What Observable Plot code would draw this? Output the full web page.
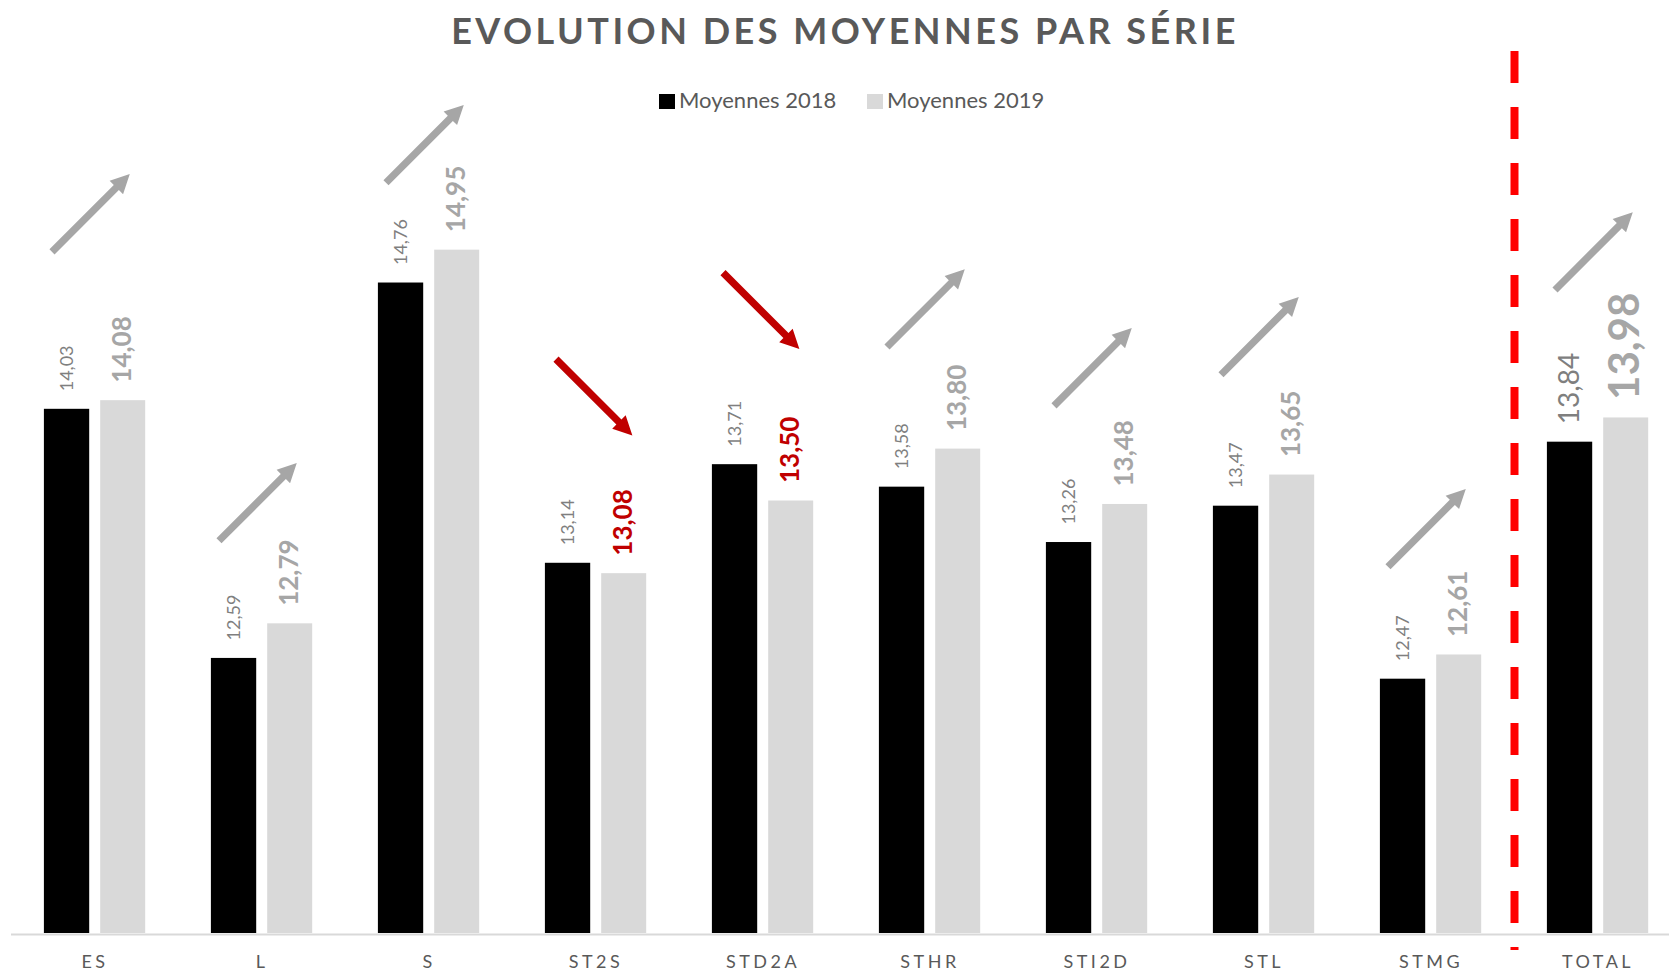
<!DOCTYPE html>
<html>
<head>
<meta charset="utf-8">
<script src="https://cdn.jsdelivr.net/npm/d3@7"></script>
<script src="https://cdn.jsdelivr.net/npm/@observablehq/plot@0.6"></script>
<style>
  body { margin: 0; background: #fff; }
  #wrap { position: relative; width: 1669px; height: 971px; overflow: hidden; font-family: Lato, "Open Sans", sans-serif; }
  #chart { position: absolute; left: 0; top: 0; }
  #title { position: absolute; left: 0; width: 1690px; top: 12px; text-align: center; font-size: 36px; line-height: 36px; font-weight: 700; color: #595959; letter-spacing: 3.5px; white-space: nowrap; }
  .lg-sw { position: absolute; width: 16px; height: 15px; top: 94px; }
  .lg-tx { position: absolute; top: 89px; font-size: 22px; line-height: 22px; color: #595959; white-space: nowrap; }
</style>
</head>
<body>
<div id="wrap">
  <div id="chart"></div>
  <div id="title"></div>
  <div id="legend"></div>
</div>
<script>
// ---- data ----
const categories = ["ES", "L", "S", "ST2S", "STD2A", "STHR", "STI2D", "STL", "STMG", "TOTAL"];
const moyennes2018 = [14.03, 12.59, 14.76, 13.14, 13.71, 13.58, 13.26, 13.47, 12.47, 13.84];
const moyennes2019 = [14.08, 12.79, 14.95, 13.08, 13.50, 13.80, 13.48, 13.65, 12.61, 13.98];
// level (in y units) where each trend arrow starts
const arrowLevels = [14.94, 13.27, 15.34, 14.32, 14.82, 14.39, 14.05, 14.23, 13.12, 14.72];
const seriesNames = ["Moyennes 2018", "Moyennes 2019"];
const seriesColors = ["#000000", "#d9d9d9"];
const titleText = "EVOLUTION DES MOYENNES PAR SÉRIE";
const yMin = 11, yMax = 16;

const rows = categories.map((c, i) => ({
  cat: c, a: moyennes2018[i], b: moyennes2019[i], level: arrowLevels[i], up: moyennes2019[i] >= moyennes2018[i]
}));
const fmt = v => d3.format(".2f")(v).replace(".", ",");

const arrowShape = {
  draw(ctx, l) {
    const w = 3.6, hw = 9.5, hl = 19;
    ctx.moveTo(-w, 0);
    ctx.lineTo(-w, hl - l);
    ctx.lineTo(-hw, hl - l);
    ctx.lineTo(0, -l);
    ctx.lineTo(hw, hl - l);
    ctx.lineTo(w, hl - l);
    ctx.lineTo(w, 0);
    ctx.closePath();
  }
};

const chart = Plot.plot({
  width: 1669,
  height: 971,
  marginTop: 68,
  marginBottom: 38,
  marginLeft: 11,
  marginRight: 0,
  style: { fontFamily: "Lato, 'Open Sans', sans-serif", background: "transparent" },
  x: { domain: categories, range: [10.5, 1680.5], padding: 0, axis: null },
  y: { domain: [yMin, yMax], axis: null },
  color: { type: "identity" },
  marks: [
    Plot.barY(rows, { x: "cat", y1: yMin, y2: "a", fill: seriesColors[0], insetLeft: 32.9, insetRight: 88.8 }),
    Plot.barY(rows, { x: "cat", y1: yMin, y2: "b", fill: seriesColors[1], insetLeft: 89.2, insetRight: 32.8 }),
    Plot.ruleY([yMin], { stroke: "#d9d9d9", strokeWidth: 2, dy: 1 }),
    Plot.ruleX(["TOTAL"], { dx: -83.5, stroke: "#ff0000", strokeWidth: 8, strokeDasharray: "32,24", insetTop: -17, insetBottom: -17 }),
    Plot.text(rows, {
      x: "cat", y: "a", text: d => fmt(d.a), rotate: -90, textAnchor: "start",
      dx: -28, dy: -18, fill: "#7f7f7f",
      fontSize: d => d.cat === "TOTAL" ? 28 : 18
    }),
    Plot.text(rows, {
      x: "cat", y: "b", text: d => fmt(d.b), rotate: -90, textAnchor: "start",
      dx: 28, dy: -18, fontWeight: "bold",
      fill: d => d.up ? "#a6a6a6" : "#c00000",
      fontSize: d => d.cat === "TOTAL" ? 42 : 26
    }),
    Plot.vector(rows.filter(d => d.up), {
      x: "cat", y: "level", length: 110, rotate: 45, anchor: "start", shape: arrowShape,
      dx: -43, fill: "#a6a6a6", stroke: "none"
    }),
    Plot.vector(rows.filter(d => !d.up), {
      x: "cat", y: "level", length: 108, rotate: 135, anchor: "start", shape: arrowShape,
      dx: -40, fill: "#c00000", stroke: "none"
    }),
    Plot.axisX({ tickSize: 0, tickPadding: 22, fontSize: 18, fill: "#595959", label: null })
  ]
});
document.getElementById("chart").appendChild(chart);
d3.select(chart).selectAll('g[aria-label="x-axis tick label"] text').style("letter-spacing", "3.5px");

document.getElementById("title").textContent = titleText;
const legend = document.getElementById("legend");
const lgPos = [659, 867];
seriesNames.forEach((name, i) => {
  const sw = document.createElement("div");
  sw.className = "lg-sw";
  sw.style.left = lgPos[i] + "px";
  sw.style.background = seriesColors[i];
  legend.appendChild(sw);
  const tx = document.createElement("div");
  tx.className = "lg-tx";
  tx.style.left = (lgPos[i] + 20) + "px";
  tx.textContent = name;
  legend.appendChild(tx);
});
</script>
</body>
</html>
